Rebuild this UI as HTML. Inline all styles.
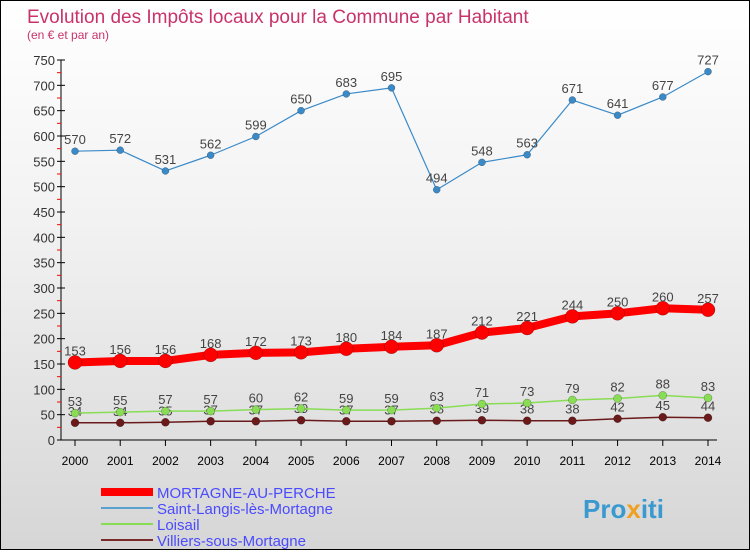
<!DOCTYPE html>
<html><head><meta charset="utf-8"><style>
body{margin:0;width:750px;height:550px;overflow:hidden;font-family:"Liberation Sans",sans-serif}
#c{position:absolute;left:0;top:0;width:748px;height:548px;border:1px solid #000;background:linear-gradient(#fff 0%,#f2f2f2 40%,#d6d6d6 100%)}
</style></head><body>
<div id="c">
<svg id="s" width="748" height="548" xmlns="http://www.w3.org/2000/svg">
<text x="26" y="22" font-size="19" fill="#c8336a">Evolution des Impôts locaux pour la Commune par Habitant</text>
<text x="26" y="38" font-size="12" fill="#c8336a">(en € et par an)</text>
<g id="g"></g>
<g>
<line x1="100" y1="491" x2="152" y2="491" stroke="#f00" stroke-width="8"/>
<text x="156" y="497" font-size="15" fill="#4a4aff">MORTAGNE-AU-PERCHE</text>
<line x1="100" y1="507" x2="152" y2="507" stroke="#5aa0d0" stroke-width="2"/>
<text x="156" y="513" font-size="15" fill="#4a4aff">Saint-Langis-lès-Mortagne</text>
<line x1="100" y1="523" x2="152" y2="523" stroke="#88dd55" stroke-width="2"/>
<text x="156" y="529" font-size="15" fill="#4a4aff">Loisail</text>
<line x1="100" y1="539" x2="152" y2="539" stroke="#7a2a2a" stroke-width="2"/>
<text x="156" y="545" font-size="15" fill="#4a4aff">Villiers-sous-Mortagne</text>
</g>
<text x="582" y="517" font-size="26" font-weight="bold" fill="#3a9ad0">Pro<tspan fill="#f0a020">x</tspan>iti</text>
</svg></div>
<script>
const years=[2000,2001,2002,2003,2004,2005,2006,2007,2008,2009,2010,2011,2012,2013,2014];
const mortagne=[153,156,156,168,172,173,180,184,187,212,221,244,250,260,257];
const saintLangis=[570,572,531,562,599,650,683,695,494,548,563,671,641,677,727];
const loisail=[53,55,57,57,60,62,59,59,63,71,73,79,82,88,83];
const villiers=[34,34,35,37,37,39,37,37,38,39,38,38,42,45,44];
const yTicks=[0,50,100,150,200,250,300,350,400,450,500,550,600,650,700,750];
const NS="http://www.w3.org/2000/svg",g=document.getElementById('g');
const X=i=>74+i*(707-74)/(years.length-1), Y=v=>439-v*380/750;
function el(t,a,p){const e=document.createElementNS(NS,t);for(const k in a)e.setAttribute(k,a[k]);(p||g).appendChild(e);return e;}
const ax=el('line',{x1:60,y1:59,x2:60,y2:439,stroke:'#000'});


const bx=el('line',{x1:60,y1:439,x2:716,y2:439,stroke:'#000'});


yTicks.forEach((v,k)=>{
 const t=el('line',{x1:56,y1:Y(v),x2:64,y2:Y(v),stroke:'#000'});
 
 
 if(k<yTicks.length-1){
 const m=el('line',{x1:56,y1:Y(v+25),x2:60,y2:Y(v+25),stroke:'#f00'});
 
 
 }
 const l=el('text',{x:54,y:Y(v)+5,'font-size':13,fill:'#333','text-anchor':'end'});l.textContent=v;
 
 
});
years.forEach((y,i)=>{
 const t=el('line',{x1:X(i),y1:439,x2:X(i),y2:445,stroke:'#000'});
 
 
 const l=el('text',{x:X(i),y:464,'font-size':12,fill:'#000','text-anchor':'middle'});l.textContent=y;
 
 
});
function series(d,name,col,w,r,lc){
 const p=el('polyline',{points:d.map((v,i)=>X(i)+','+Y(v)).join(' '),fill:'none',stroke:col,'stroke-width':w,'stroke-linejoin':'round'});
 
 
 d.forEach((v,i)=>{
  const c=el('circle',{cx:X(i),cy:Y(v),r:r,fill:col,stroke:'rgba(0,0,0,0.4)','stroke-width':0.5});
  
  
  const t=el('text',{x:X(i),y:Y(v)-7,'font-size':13,fill:lc,'text-anchor':'middle'});t.textContent=v;
  
  
 });
}
series(villiers,'villiers','#6a1a1a',1.5,4,'#444');
series(loisail,'loisail','#88dd55',1.5,4,'#444');
series(mortagne,'mortagne','#f00',8,7,'#444');
series(saintLangis,'saint-langis','#3a8ac8',1.2,3.5,'#444');
</script>
</body></html>
